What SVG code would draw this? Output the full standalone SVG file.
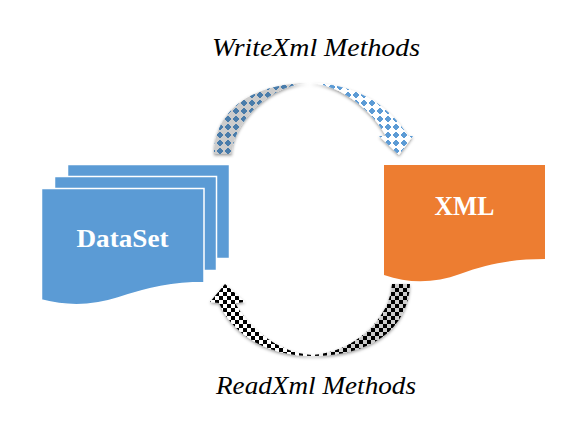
<svg xmlns="http://www.w3.org/2000/svg" width="587" height="425" viewBox="0 0 587 425">
<style>
.lbl{font-family:"Liberation Serif","Times New Roman",serif;font-style:italic;font-size:26px;fill:#000}
.ttl{font-family:"Liberation Serif","Times New Roman",serif;font-weight:bold;fill:#fff;text-anchor:middle}
.blue{fill:#5b9bd5;stroke:#fff;stroke-width:1.5}
</style>
<defs>
<pattern id="diamonds" patternUnits="userSpaceOnUse" x="0" y="3" width="8" height="8">
<rect width="8" height="8" fill="#fff"/>
<path d="M4 .1L7.900 4L4 7.900L.1 4Z" fill="#5b9bd5" shape-rendering="crispEdges"/>
</pattern>
<pattern id="checks" patternUnits="userSpaceOnUse" x="223" y="284" width="8" height="8">
<rect width="8" height="8" fill="#fff"/>
<rect width="4" height="4" fill="#000"/>
<rect x="4" y="4" width="4" height="4" fill="#000"/>
</pattern>
<linearGradient id="shadeTop" gradientUnits="userSpaceOnUse" x1="214" y1="0" x2="325" y2="0">
<stop offset="0" stop-color="#000" stop-opacity=".2"/>
<stop offset=".7" stop-color="#000" stop-opacity=".2"/>
<stop offset=".95" stop-color="#000" stop-opacity="0"/>
</linearGradient>
<linearGradient id="shadeBot" gradientUnits="userSpaceOnUse" x1="310" y1="0" x2="410" y2="0">
<stop offset="0" stop-color="#000" stop-opacity="0"/>
<stop offset=".4" stop-color="#000" stop-opacity=".2"/>
<stop offset="1" stop-color="#000" stop-opacity=".2"/>
</linearGradient>
<filter id="shadow" x="-10%" y="-10%" width="120%" height="125%">
<feDropShadow dx="0" dy="1.500" stdDeviation="1.500" flood-color="#000" flood-opacity=".4"/>
</filter>
<path id="topArrow" d="M214 154C214 112 250 83 310 83C350 83 388 102 408 136L413 136L399 155L379 136L386 136C368 104 335 84 310 83C268 84 232 125 232 154Z"/>
<path id="botArrow" d="M410 284C408 330 370 356 312 356C275 356 235 340 219 303L210 302L225 284L245 302L235 303C250 330 280 353 312 355C352 353 390 320 392 284Z"/>
</defs>
<g id="connectors">
<g id="write-arrow" filter="url(#shadow)">
<use href="#topArrow" fill="url(#diamonds)"/>
<use href="#topArrow" fill="url(#shadeTop)"/>
</g>
<g id="read-arrow" filter="url(#shadow)">
<use href="#botArrow" fill="url(#checks)"/>
<use href="#botArrow" fill="url(#shadeBot)"/>
</g>
</g>
<g id="dataset">
<rect class="blue" x="67.5" y="164.5" width="162" height="94"/>
<rect class="blue" x="54.5" y="176.5" width="162" height="94"/>
<path class="blue" d="M41.5 188.5H204V282.500C173 282.500 148 288 118 298C93 306 68 307 41.5 300Z"/>
<text class="ttl" x="122.500" y="247" font-size="26" textLength="92" lengthAdjust="spacingAndGlyphs">DataSet</text>
</g>
<g id="xml">
<path fill="#ed7d31" d="M384 165H545V259C515 259 490 263 460 274C435 283 410 284 384 275Z"/>
<text class="ttl" x="464.500" y="215" font-size="28" textLength="60" lengthAdjust="spacingAndGlyphs">XML</text>
</g>
<g id="labels">
<text class="lbl" x="212" y="56" textLength="208" lengthAdjust="spacingAndGlyphs">WriteXml Methods</text>
<text class="lbl" x="216" y="394" textLength="200" lengthAdjust="spacingAndGlyphs">ReadXml Methods</text>
</g>
</svg>
